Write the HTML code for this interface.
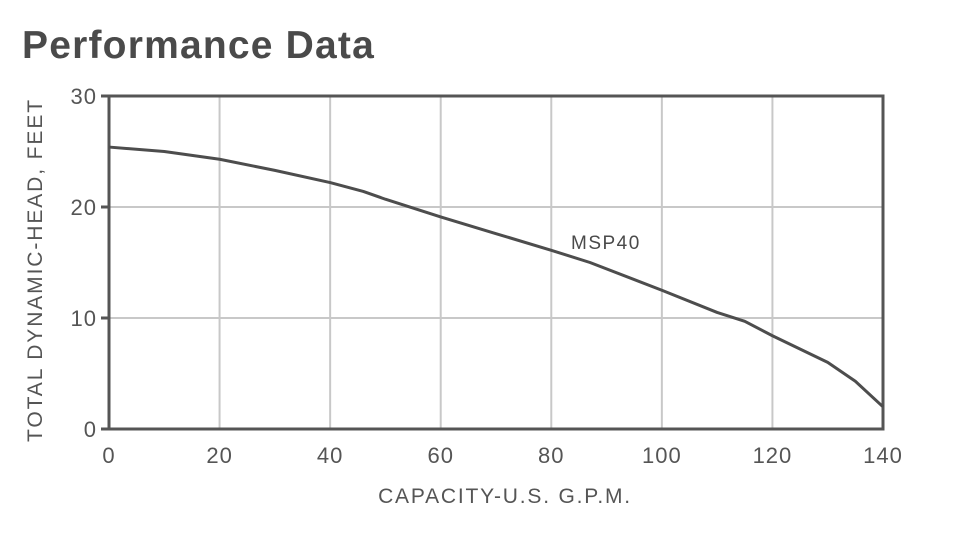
<!DOCTYPE html>
<html><head><meta charset="utf-8"><style>
body{margin:0;background:#fff;width:963px;height:559px;overflow:hidden}
svg{display:block}
text{font-family:"Liberation Sans",sans-serif}
</style></head><body>
<svg width="963" height="559">
<text x="22" y="58" font-size="39" font-weight="bold" fill="#4a4a4a" letter-spacing="1.2">Performance Data</text>
<g id="grid"></g>
<g id="axes"></g>
<path id="curve" fill="none" stroke="#4d4d4d" stroke-width="3" stroke-linejoin="round"/>
<text x="571" y="249" font-size="19" fill="#4a4a4a" letter-spacing="1.5">MSP40</text>
<text x="505" y="503" font-size="21" fill="#555" text-anchor="middle" letter-spacing="1.8">CAPACITY-U.S. G.P.M.</text>
<text transform="translate(42,270) rotate(-90)" font-size="21" fill="#555" text-anchor="middle" letter-spacing="1.9">TOTAL DYNAMIC-HEAD, FEET</text>
</svg>
<script>
const xTicks=[0,20,40,60,80,100,120,140];
const yTicks=[0,10,20,30];
const gpm=[0,10,20,30,40,46,50,60,70,80,87,100,110,115,120,130,135,140];
const head=[25.4,25,24.3,23.3,22.2,21.4,20.7,19.1,17.6,16.1,15,12.5,10.5,9.7,8.4,6,4.3,2];
const X0=109,X1=883,Y0=429,Y1=96;
const sx=v=>X0+(X1-X0)*v/140, sy=v=>Y0-(Y0-Y1)*v/30;
const NS="http://www.w3.org/2000/svg";
const grid=document.getElementById('grid'), axes=document.getElementById('axes');
function mk(tag,attrs,parent){const e=document.createElementNS(NS,tag);for(const k in attrs)e.setAttribute(k,attrs[k]);parent.appendChild(e);return e;}
xTicks.forEach(t=>{
  if(t>0&&t<140){const l=mk('line',{x1:sx(t),x2:sx(t),y1:Y1,y2:Y0,stroke:'#c8c8c8','stroke-width':2},grid);
  
  }
  const tx=mk('text',{x:sx(t),y:463,'font-size':22,fill:'#555','text-anchor':'middle','letter-spacing':1},axes);
  tx.textContent=t;
  
  
});
yTicks.forEach(t=>{
  if(t>0&&t<30){const l=mk('line',{x1:X0,x2:X1,y1:sy(t),y2:sy(t),stroke:'#c8c8c8','stroke-width':2},grid);
  
  }
  const tk=mk('line',{x1:101,x2:X0,y1:sy(t),y2:sy(t),stroke:'#555','stroke-width':3},axes);
  
  
  const tx=mk('text',{x:97,y:sy(t)+8,'font-size':22,fill:'#555','text-anchor':'end','letter-spacing':1},axes);
  tx.textContent=t;
  
  
});
const fr=mk('rect',{x:X0,y:Y1,width:X1-X0,height:Y0-Y1,fill:'none',stroke:'#555','stroke-width':3},axes);


document.getElementById('curve').setAttribute('d',gpm.map((g,i)=>(i?'L':'M')+sx(g)+','+sy(head[i])).join(' '));
</script>
</body></html>
